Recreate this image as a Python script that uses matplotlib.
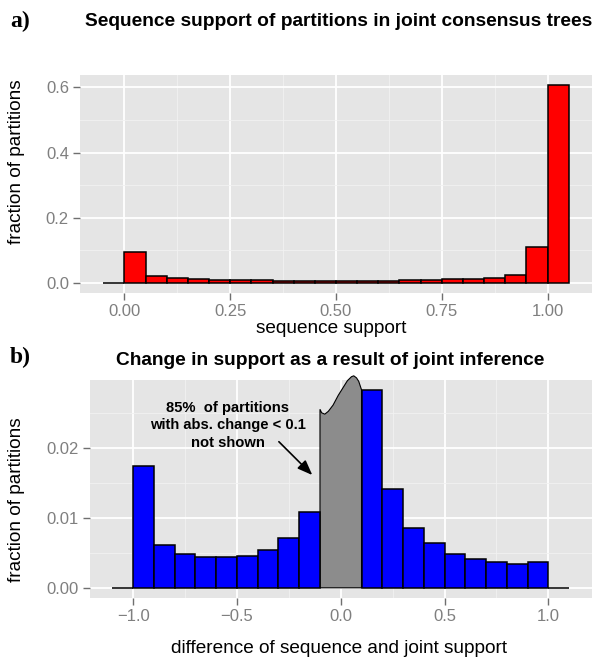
import numpy as np
import matplotlib
matplotlib.use('Agg')
import matplotlib.pyplot as plt
from matplotlib.ticker import MultipleLocator

plt.rcParams['font.family'] = ['Liberation Sans', 'DejaVu Sans']

# panel a: sequence support histogram, binwidth 0.05
seq_bins = np.round(np.arange(-0.05, 1.05, 0.05), 2)
seq_frac = [0.0, 0.0942, 0.0195, 0.0143, 0.0113, 0.0092, 0.0072, 0.0082,
            0.0061, 0.0061, 0.0051, 0.0051, 0.0051, 0.0051, 0.0072, 0.0072,
            0.0102, 0.0102, 0.0154, 0.0236, 0.1096, 0.607]

# panel b: change in support, binwidth 0.1 (two centre bins hidden)
diff_bins = np.round(np.arange(-1.1, 1.1, 0.1), 1)
diff_frac = [0.0, 0.01746, 0.00617, 0.00478, 0.0044, 0.00445, 0.0045, 0.0054,
             0.00713, 0.0109, np.nan, np.nan, 0.02837, 0.01416, 0.00856, 0.00636,
             0.00483, 0.00416, 0.00364, 0.0034, 0.00368, 0.0]

# outline of the grey "not shown" block
hidden_x = [-0.1, -0.1, -0.092, -0.077, -0.06, -0.037, -0.012, 0.011, 0.032, 0.0515, 0.0626, 0.076, 0.0866, 0.1, 0.1]
hidden_y = [0.0, 0.0256, 0.0251, 0.0249, 0.0253, 0.0262, 0.0276, 0.0287, 0.0297, 0.03027, 0.0304, 0.0301, 0.0296, 0.0284, 0.0]

W, H = 592, 660
fig = plt.figure(figsize=(W / 100, H / 100), dpi=100)

def px(x0, y0, x1, y1):
    return [x0 / W, 1 - y1 / H, (x1 - x0) / W, (y1 - y0) / H]

def gg_style(ax):
    ax.set_facecolor('#E5E5E5')
    for s in ax.spines.values():
        s.set_visible(False)
    ax.grid(which='major', color='white', lw=1.3)
    ax.grid(which='minor', color='#F2F2F2', lw=0.6)
    ax.set_axisbelow(True)
    ax.tick_params(which='major', direction='out', length=5, width=1,
                   color='#6F6F6F', labelcolor='#7F7F7F', labelsize=12, pad=3)
    ax.tick_params(which='minor', length=0)

ax1 = fig.add_axes(px(80, 75, 592, 292.7))
gg_style(ax1)
ax1.bar(seq_bins, seq_frac, width=0.05, align='edge', color='#FF0000',
        edgecolor='black', linewidth=1.1)
ax1.set_xlim(-0.105, 1.105)
ax1.set_ylim(-0.0304, 0.638)
ax1.set_xticks([0, 0.25, 0.5, 0.75, 1.0])
ax1.set_xticklabels(['0.00', '0.25', '0.50', '0.75', '1.00'])
ax1.xaxis.set_minor_locator(MultipleLocator(0.125))
ax1.set_yticks([0, 0.2, 0.4, 0.6])
ax1.yaxis.set_minor_locator(MultipleLocator(0.1))

ax2 = fig.add_axes(px(89.5, 380, 592, 597.7))
gg_style(ax2)
mask = ~np.isnan(np.array(diff_frac))
ax2.bar(diff_bins[mask], np.array(diff_frac)[mask], width=0.1, align='edge',
        color='#0000FF', edgecolor='black', linewidth=1.1, zorder=3)
ax2.fill(hidden_x, hidden_y, facecolor='#8C8C8C', edgecolor='black',
         linewidth=0.8, clip_on=False, zorder=2)
ax2.set_xlim(-1.21, 1.21)
ax2.set_ylim(-0.00142, 0.0298)
ax2.set_xticks([-1.0, -0.5, 0.0, 0.5, 1.0])
ax2.set_xticklabels(['\u22121.0', '\u22120.5', '0.0', '0.5', '1.0'])
ax2.xaxis.set_minor_locator(MultipleLocator(0.25))
ax2.set_yticks([0, 0.01, 0.02])
ax2.set_yticklabels(['0.00', '0.01', '0.02'])
ax2.yaxis.set_minor_locator(MultipleLocator(0.005))

ax2.annotate('', xy=(-0.137, 0.01617), xytext=(-0.298, 0.02095),
             arrowprops=dict(arrowstyle='-|>,head_length=0.9,head_width=0.35',
                             color='black', lw=1.2, shrinkA=0, shrinkB=0))
ax2.text(-0.544, 0.0233, '85%  of partitions\nwith abs. change < 0.1\nnot shown',
         ha='center', va='center', fontsize=10.6, fontweight='bold',
         linespacing=1.3)

# titles, labels and panel letters
def ftext(x, y, s, **kw):
    fig.text(x / W, 1 - y / H, s, **kw)

ftext(20, 27, 'a)', fontsize=17, fontweight='bold', family='Liberation Serif',
      ha='center', va='baseline')
ftext(20, 363, 'b)', fontsize=17, fontweight='bold', family='Liberation Serif',
      ha='center', va='baseline')
ftext(339, 26, 'Sequence support of partitions in joint consensus trees',
      fontsize=13.8, fontweight='bold', ha='center', va='baseline')
ftext(330, 365, 'Change in support as a result of joint inference',
      fontsize=13.8, fontweight='bold', ha='center', va='baseline')
ftext(331, 333, 'sequence support', fontsize=13.7, ha='center', va='baseline')
ftext(339, 652.7, 'difference of sequence and joint support', fontsize=13.7,
      ha='center', va='baseline')
ftext(17, 162, 'fraction of partitions', fontsize=13.7, rotation=90,
      ha='center', va='center')
ftext(17, 500, 'fraction of partitions', fontsize=13.7, rotation=90,
      ha='center', va='center')

fig.savefig('out.png', dpi=100)
